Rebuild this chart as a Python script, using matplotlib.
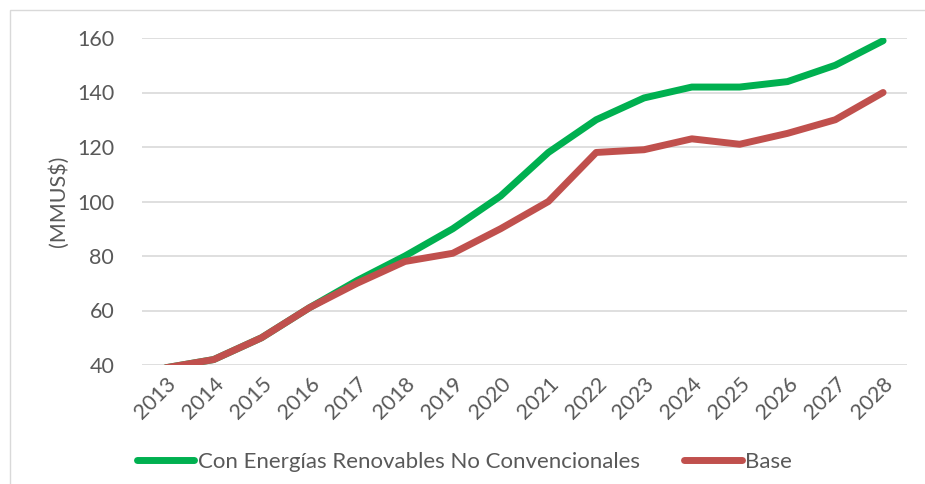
import matplotlib.pyplot as plt
from matplotlib.lines import Line2D
from matplotlib.patches import Rectangle

years = ['2013', '2014', '2015', '2016', '2017', '2018', '2019', '2020',
         '2021', '2022', '2023', '2024', '2025', '2026', '2027', '2028']
ernc = [39, 42, 50, 61, 71, 80, 90, 102, 118, 130, 138, 142, 142, 144, 150, 159]
base = [39, 42, 50, 61, 70, 78, 81, 90, 100, 118, 119, 123, 121, 125, 130, 140]

plt.rcParams['font.family'] = ['Lato', 'DejaVu Sans']
gray = '#595959'

fig = plt.figure(figsize=(9.25, 4.84), dpi=100)
fig.patches.append(Rectangle((10 / 925, -0.1), 1.2, (474 / 484) + 0.1,
                             transform=fig.transFigure, fill=False,
                             edgecolor='#d9d9d9', linewidth=1))

ax = fig.add_axes([142 / 925, 1 - 365 / 484, (907 - 142) / 925, (365 - 38) / 484])
x = range(len(years))
ax.plot(x, ernc, color='#00b050', lw=5, solid_capstyle='round', zorder=3)
ax.plot(x, base, color='#c0504d', lw=5, solid_capstyle='round', zorder=3)

ax.set_xlim(-0.5, len(years) - 0.5)
ax.set_ylim(40, 160)
ax.set_yticks(range(40, 161, 20))
ax.set_xticks(list(x))
ax.set_xticklabels(years, rotation=45, ha='right', rotation_mode='anchor')
ax.grid(axis='y', color='#d9d9d9', lw=1.2)
ax.set_axisbelow(True)
for s in ax.spines.values():
    s.set_visible(False)
ax.tick_params(length=0, labelsize=15.5, colors=gray, pad=20)
ax.tick_params(axis='x', pad=6)
ax.set_ylabel('(MMUS$)', fontsize=15.5, color=gray, labelpad=6)

handles = [Line2D([], [], color='#00b050', lw=5, solid_capstyle='round'),
           Line2D([], [], color='#c0504d', lw=5, solid_capstyle='round')]
fig.legend(handles, ['Con Energías Renovables No Convencionales', 'Base'],
           loc='center', bbox_to_anchor=(0.502, 1 - 462 / 484), ncol=2,
           frameon=False, fontsize=16, labelcolor=gray, handlelength=2.6,
           handletextpad=0.15, columnspacing=2.0)

fig.savefig('out.png', dpi=100)
